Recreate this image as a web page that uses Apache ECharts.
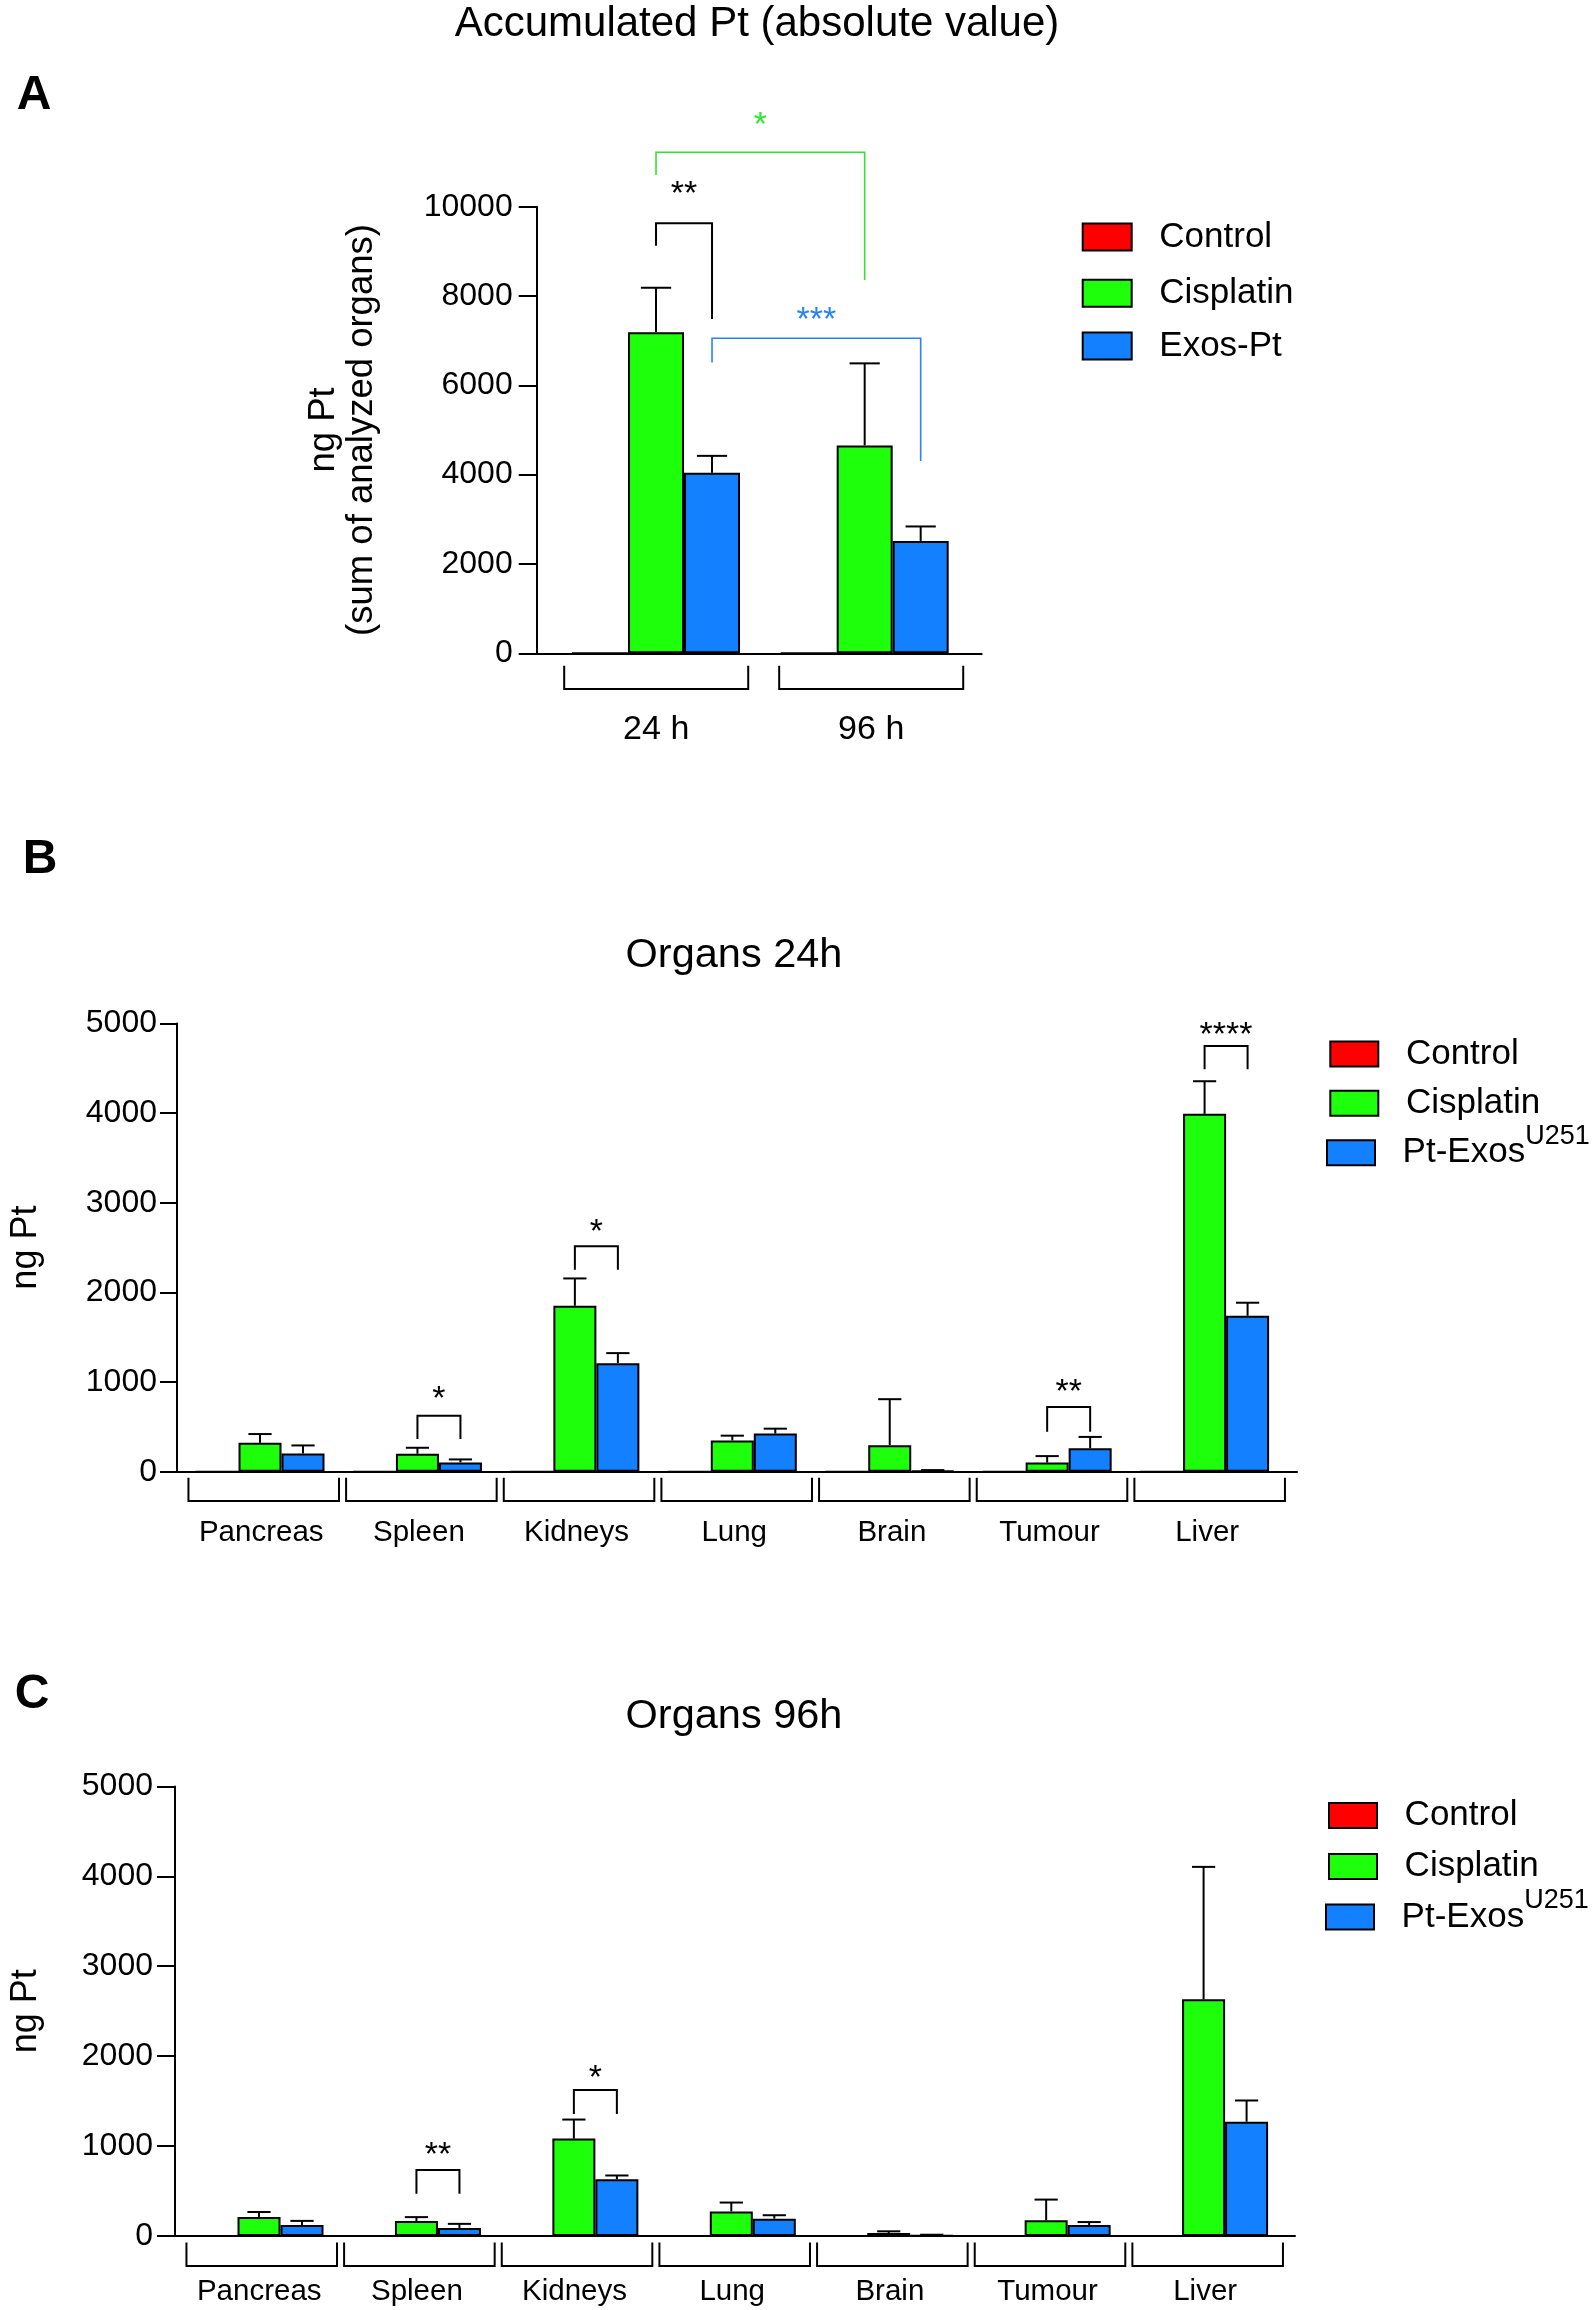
<!DOCTYPE html>
<html>
<head>
<meta charset="utf-8">
<script src="https://cdn.jsdelivr.net/npm/echarts@6/dist/echarts.min.js"></script>
<style>html,body{margin:0;padding:0;background:#fff}#chart{width:1593px;height:2310px}</style>
</head>
<body>
<div id="chart"></div>
<script>
// ================= DATA =================
// Panel A: accumulated Pt (sum of analyzed organs)
const timePoints = ['24 h', '96 h'];
const accControl = [0, 0];
const accCisplatin = [7190, 4655];
const accCisplatinSD = [995, 1837];
const accExos = [4042, 2517];
const accExosSD = [379, 323];
const accYMax = 10000, accYStep = 2000;
// significance: [category1, bar slot1, category2, bar slot2] (slot: -1 control, 0 cisplatin, 1 exos)
const accSigPairs = [[0, 0, 0, 1], [0, 0, 1, 0], [0, 1, 1, 1]];
// [bracket top, leg 1 end, leg 2 end, asterisk level]
const accSigLevels = [[9628, 9127, 7486, 10434], [11218, 10710, 8359, 11990], [7053, 6511, 4306, 7613]];
const accSigLabels = ['**', '*', '***'];

// Panel B: organs 24h
const organs = ['Pancreas', 'Spleen', 'Kidneys', 'Lung', 'Brain', 'Tumour', 'Liver'];
const h24Control = [0, 0, 0, 0, 0, 0, 0];
const h24Cisplatin = [322, 200, 1851, 349, 296, 102, 3992];
const h24CisplatinSD = [98, 67, 305, 53, 513, 72, 364];
const h24Exos = [203, 104, 1211, 426, 10, 262, 1739];
const h24ExosSD = [90, 33, 112, 54, 8, 126, 146];
const h24SigPairs = [[1, 0, 1, 1], [2, 0, 2, 1], [5, 0, 5, 1], [6, 0, 6, 1]];
const h24SigLevels = [[625, 365, 365, 882], [2515, 2253, 2253, 2747], [722, 446, 446, 964], [4748, 4491, 4491, 4952]];
const h24SigLabels = ['*', '*', '**', '****'];

// Panel C: organs 96h
const h96Control = [0, 0, 0, 0, 0, 0, 0];
const h96Cisplatin = [212, 167, 1083, 273, 33, 174, 2632];
const h96CisplatinSD = [55, 43, 212, 99, 19, 231, 1473];
const h96Exos = [122, 90, 631, 193, 5, 122, 1271];
const h96ExosSD = [46, 45, 42, 38, 9, 33, 236];
const h96SigPairs = [[1, 0, 1, 1], [2, 0, 2, 1]];
const h96SigLevels = [[733, 470, 470, 981], [1624, 1356, 1356, 1836]];
const h96SigLabels = ['**', '*'];

const organYMax = 5000, organYStep = 1000;

// ================= STYLE / LAYOUT =================
const FONT = '"Liberation Sans", Arial, Helvetica, sans-serif';
const RED = '#ff0000', GREEN = '#1eff0c', BLUE = '#1280ff';
const accSigColors = ['#000000', '#2ee62e', '#2a82f5'];
const accSigWidths = [2, 1.6, 1.6];

const layoutA = {frameLeft: 536.7, frameWidth: 445, barLeft: 551.7, barWidth: 417.3, brkLeft: 548.7, brkWidth: 430,
  top: 206.7, height: 446.6, barPx: 56, tickLen: 18, labelMargin: 24, nameGap: 156, nameFont: 36.5, nameLH: 38,
  catFont: 34, catMargin: 76, brkFrac: 0.856, brkD1: 12.4, brkD2: 35.7, starFont: 34, catPad: [0, 0, 0, 0]};
const layoutB = {frameLeft: 170, frameWidth: 1127, barLeft: 181.3, barWidth: 1102, brkLeft: 184.9, brkWidth: 1103.6,
  top: 1023.5, height: 448.2, barPx: 43, tickLen: 17, labelMargin: 20, nameGap: 133, nameFont: 36, nameLH: 36,
  catFont: 29.5, catMargin: 61, brkFrac: 0.955, brkD1: 6, brkD2: 29.3, starFont: 34, catPad: [0, 5, 0, 0]};
const layoutC = {frameLeft: 167.7, frameWidth: 1127.3, barLeft: 180.3, barWidth: 1102, brkLeft: 182.9, brkWidth: 1103.6,
  top: 1786.4, height: 449.6, barPx: 43, tickLen: 18, labelMargin: 22, nameGap: 131, nameFont: 36, nameLH: 36,
  catFont: 29.5, catMargin: 56, brkFrac: 0.955, brkD1: 6.4, brkD2: 30, starFont: 34, catPad: [0, 5, 0, 0]};

const grids = [], xAxes = [], yAxes = [], series = [];

function errorRenderer(slot, bw) {
  return function (params, api) {
    const i = api.value(0), m = api.value(1), s = api.value(2);
    const p0 = api.coord([i, m]);
    const p1 = api.coord([i, m + s]);
    const x = p0[0] + slot * bw;
    const cw = bw * 0.27;
    return {type: 'group', children: [
      {type: 'line', shape: {x1: x, y1: p0[1], x2: x, y2: p1[1]}, style: {stroke: '#000', lineWidth: 2}},
      {type: 'line', shape: {x1: x - cw, y1: p1[1], x2: x + cw, y2: p1[1]}, style: {stroke: '#000', lineWidth: 2}}
    ]};
  };
}

function sigRenderer(bw, labels, colors, widths, fs) {
  return function (params, api) {
    const k = params.dataIndex;
    const c1 = api.value(0), s1 = api.value(1), c2 = api.value(2), s2 = api.value(3);
    const top = api.value(4), b1 = api.value(5), b2 = api.value(6), st = api.value(7);
    const x1 = api.coord([c1, top])[0] + s1 * bw;
    const x2 = api.coord([c2, top])[0] + s2 * bw;
    const yT = api.coord([c1, top])[1];
    const y1 = api.coord([c1, b1])[1];
    const y2 = api.coord([c1, b2])[1];
    const ys = api.coord([c1, st])[1] + fs * 0.22;
    const col = colors[k];
    return {type: 'group', children: [
      {type: 'polyline', shape: {points: [[x1, y1], [x1, yT], [x2, yT], [x2, y2]]},
        style: {stroke: col, lineWidth: widths[k], fill: 'none'}},
      {type: 'text', style: {text: labels[k], x: (x1 + x2) / 2, y: ys, fill: col, font: fs + 'px ' + FONT,
        fontSize: fs, fontFamily: FONT, align: 'center', verticalAlign: 'middle', textAlign: 'center', textVerticalAlign: 'middle'}}
    ]};
  };
}

function bracketRenderer(frac, d1, d2) {
  return function (params, api) {
    const c = api.coord([api.value(0), 0]);
    const w = api.size([1, 0])[0] * frac;
    return {type: 'polyline', shape: {points: [[c[0] - w / 2, c[1] + d1], [c[0] - w / 2, c[1] + d2],
      [c[0] + w / 2, c[1] + d2], [c[0] + w / 2, c[1] + d1]]}, style: {stroke: '#000', lineWidth: 2, fill: 'none'}};
  };
}

function buildPanel(L, d) {
  const g = grids.length;
  grids.push({left: L.frameLeft, top: L.top, width: L.frameWidth, height: L.height});
  grids.push({left: L.barLeft, top: L.top, width: L.barWidth, height: L.height});
  grids.push({left: L.brkLeft, top: L.top, width: L.brkWidth, height: L.height});
  // frame axes
  xAxes.push({gridIndex: g, type: 'value', min: 0, max: 1,
    axisLine: {show: true, lineStyle: {color: '#000', width: 2}}, axisTick: {show: false},
    axisLabel: {show: false}, splitLine: {show: false}});
  yAxes.push({gridIndex: g, type: 'value', min: 0, max: d.ymax, interval: d.ystep,
    name: d.yName, nameLocation: 'middle', nameRotate: 90, nameGap: L.nameGap,
    nameTextStyle: {fontSize: L.nameFont, lineHeight: L.nameLH, color: '#000', fontFamily: FONT},
    axisLine: {show: true, lineStyle: {color: '#000', width: 2}},
    axisTick: {show: true, length: L.tickLen, lineStyle: {color: '#000', width: 2}},
    axisLabel: {fontSize: 32, color: '#000', fontFamily: FONT, margin: L.labelMargin, formatter: v => String(v)},
    splitLine: {show: false}});
  // bar axes
  xAxes.push({gridIndex: g + 1, type: 'category', data: d.cats, show: false});
  yAxes.push({gridIndex: g + 1, type: 'value', min: 0, max: d.ymax, show: false});
  // bracket axes with category labels
  xAxes.push({gridIndex: g + 2, type: 'category', data: d.cats,
    axisLine: {show: false}, axisTick: {show: false}, splitLine: {show: false},
    axisLabel: {show: true, interval: 0, margin: L.catMargin, verticalAlign: 'middle', padding: L.catPad,
      fontSize: L.catFont, color: '#000', fontFamily: FONT}});
  yAxes.push({gridIndex: g + 2, type: 'value', min: 0, max: d.ymax, show: false});

  const barBase = {type: 'bar', xAxisIndex: g + 1, yAxisIndex: g + 1, barWidth: L.barPx, barGap: '0%',
    animation: false, silent: true};
  series.push(Object.assign({}, barBase, {name: d.names[0], data: d.control,
    itemStyle: {color: RED, borderColor: '#000', borderWidth: 2}}));
  series.push(Object.assign({}, barBase, {name: d.names[1], data: d.cis,
    itemStyle: {color: GREEN, borderColor: '#000', borderWidth: 2}}));
  series.push(Object.assign({}, barBase, {name: d.names[2], data: d.exo,
    itemStyle: {color: BLUE, borderColor: '#000', borderWidth: 2}}));
  series.push({type: 'custom', xAxisIndex: g + 1, yAxisIndex: g + 1, z: 3, silent: true, animation: false,
    encode: {x: 0, y: 1}, data: d.cats.map((c, i) => [i, d.cis[i], d.cisSD[i]]), renderItem: errorRenderer(0, L.barPx)});
  series.push({type: 'custom', xAxisIndex: g + 1, yAxisIndex: g + 1, z: 3, silent: true, animation: false,
    encode: {x: 0, y: 1}, data: d.cats.map((c, i) => [i, d.exo[i], d.exoSD[i]]), renderItem: errorRenderer(1, L.barPx)});
  series.push({type: 'custom', xAxisIndex: g + 1, yAxisIndex: g + 1, z: 4, silent: true, animation: false,
    encode: {x: 0, y: 4},
    data: d.sigPairs.map((p, k) => p.concat(d.sigLevels[k])),
    renderItem: sigRenderer(L.barPx, d.sigLabels, d.sigColors, d.sigWidths, L.starFont)});
  series.push({type: 'custom', xAxisIndex: g + 2, yAxisIndex: g + 2, z: 3, silent: true, animation: false,
    encode: {x: 0, y: 1}, data: d.cats.map((c, i) => [i, 0]),
    renderItem: bracketRenderer(L.brkFrac, L.brkD1, L.brkD2)});
}

buildPanel(layoutA, {cats: timePoints, ymax: accYMax, ystep: accYStep, yName: 'ng Pt\n(sum of analyzed organs)',
  names: ['Control', 'Cisplatin', 'Exos-Pt'], control: accControl, cis: accCisplatin, cisSD: accCisplatinSD,
  exo: accExos, exoSD: accExosSD, sigPairs: accSigPairs, sigLevels: accSigLevels, sigLabels: accSigLabels,
  sigColors: accSigColors, sigWidths: accSigWidths});
buildPanel(layoutB, {cats: organs, ymax: organYMax, ystep: organYStep, yName: 'ng Pt',
  names: ['Control', 'Cisplatin', 'Pt-Exos U251'], control: h24Control, cis: h24Cisplatin, cisSD: h24CisplatinSD,
  exo: h24Exos, exoSD: h24ExosSD, sigPairs: h24SigPairs, sigLevels: h24SigLevels, sigLabels: h24SigLabels,
  sigColors: h24SigLabels.map(() => '#000'), sigWidths: h24SigLabels.map(() => 2)});
buildPanel(layoutC, {cats: organs, ymax: organYMax, ystep: organYStep, yName: 'ng Pt',
  names: ['Control', 'Cisplatin', 'Pt-Exos U251'], control: h96Control, cis: h96Cisplatin, cisSD: h96CisplatinSD,
  exo: h96Exos, exoSD: h96ExosSD, sigPairs: h96SigPairs, sigLevels: h96SigLevels, sigLabels: h96SigLabels,
  sigColors: h96SigLabels.map(() => '#000'), sigWidths: h96SigLabels.map(() => 2)});

// one legend component per row (centre of the swatch given); rows with a superscript are taller
const ROW_H = 60;
function legendRow(name, left, cy, fs, iw, ih) {
  const sup = name === 'Pt-Exos U251';
  return {orient: 'vertical', left: left, top: cy - (sup ? 29 : 16), itemWidth: iw, itemHeight: ih, icon: 'rect',
    padding: 0, selectedMode: false, data: [name],
    itemStyle: {borderColor: '#000', borderWidth: 2},
    formatter: n => n === 'Pt-Exos U251' ? '{g| }{n|Pt-Exos}{s|U251}' : '{g| }{n|' + n + '}',
    textStyle: {color: '#000', fontFamily: FONT, fontSize: fs,
      rich: {
        g: {width: 22.6, fontSize: fs, lineHeight: ROW_H, verticalAlign: 'middle'},
        n: {fontSize: fs, fontFamily: FONT, color: '#000', lineHeight: ROW_H, verticalAlign: 'middle'},
        s: {fontSize: 27, fontFamily: FONT, color: '#000', lineHeight: 26, verticalAlign: 'top'}
      }}};
}

const legends = [
  legendRow('Control', 1081.7, 235.6, 35, 49, 27),
  legendRow('Cisplatin', 1081.7, 291.7, 35, 49, 27),
  legendRow('Exos-Pt', 1081.7, 344.4, 35, 49, 27),
  legendRow('Control', 1329.3, 1052.5, 35, 48, 25),
  legendRow('Cisplatin', 1329.3, 1101.8, 35, 48, 25),
  legendRow('Pt-Exos U251', 1326, 1151.8, 35, 48, 25),
  legendRow('Control', 1328, 1814, 35, 48, 25),
  legendRow('Cisplatin', 1328, 1865, 35, 48, 25),
  legendRow('Pt-Exos U251', 1325, 1916, 35, 48, 25)
];

function txt(text, x, y, fs, bold) {
  return {type: 'text', silent: true, style: {text: text, x: x, y: y, fill: '#000',
    font: (bold ? 'bold ' : '') + fs + 'px ' + FONT, fontSize: fs, fontWeight: bold ? 'bold' : 'normal', fontFamily: FONT,
    align: 'center', verticalAlign: 'middle', textAlign: 'center', textVerticalAlign: 'middle'}};
}

const chart = echarts.init(document.getElementById('chart'), null, {renderer: 'canvas'});
chart.setOption({
  animation: false,
  backgroundColor: '#ffffff',
  grid: grids,
  xAxis: xAxes,
  yAxis: yAxes,
  legend: legends,
  series: series,
  graphic: [
    txt('Accumulated Pt (absolute value)', 757, 24, 42, false),
    txt('A', 34, 96, 48, true),
    txt('B', 40, 860, 48, true),
    txt('Organs 24h', 734, 955.5, 41.5, false),
    txt('C', 32, 1694.4, 48, true),
    txt('Organs 96h', 734, 1716.6, 41.5, false)
  ]
});
</script>
</body>
</html>
